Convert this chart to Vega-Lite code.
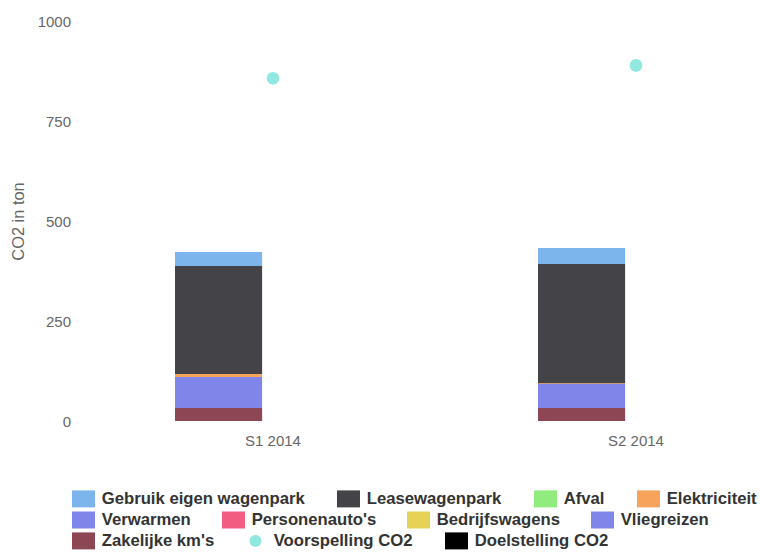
{
  "$schema": "https://vega.github.io/schema/vega-lite/v6.json",
  "width": 726,
  "height": 400,
  "autosize": {"type": "none"},
  "padding": {"left": 91.5, "top": 21, "right": 0, "bottom": 131},
  "background": "#ffffff",
  "config": {
    "font": "Liberation Sans",
    "view": {"stroke": null},
    "legend": {
      "orient": "none",
      "direction": "horizontal",
      "columnPadding": 30,
      "padding": 0,
      "symbolSize": 289,
      "symbolStrokeWidth": 0,
      "symbolOpacity": 1,
      "labelFont": "Liberation Sans",
      "labelFontSize": 16.7,
      "labelFontWeight": "bold",
      "labelColor": "#333333",
      "labelOffset": 9.7,
      "labelLimit": 0
    }
  },
  "datasets": {
    "columns": [
      {"period": "S1 2014", "series": "Zakelijke km's", "seriesIndex": 8, "value": 32.5},
      {"period": "S1 2014", "series": "Verwarmen", "seriesIndex": 4, "value": 77.5},
      {"period": "S1 2014", "series": "Elektriciteit", "seriesIndex": 3, "value": 7.5},
      {"period": "S1 2014", "series": "Leasewagenpark", "seriesIndex": 1, "value": 270},
      {"period": "S1 2014", "series": "Gebruik eigen wagenpark", "seriesIndex": 0, "value": 35},
      {"period": "S2 2014", "series": "Zakelijke km's", "seriesIndex": 8, "value": 32.5},
      {"period": "S2 2014", "series": "Verwarmen", "seriesIndex": 4, "value": 60},
      {"period": "S2 2014", "series": "Elektriciteit", "seriesIndex": 3, "value": 2},
      {"period": "S2 2014", "series": "Leasewagenpark", "seriesIndex": 1, "value": 298},
      {"period": "S2 2014", "series": "Gebruik eigen wagenpark", "seriesIndex": 0, "value": 40}
    ],
    "forecast": [
      {"period": "S1 2014", "series": "Voorspelling CO2", "value": 857},
      {"period": "S2 2014", "series": "Voorspelling CO2", "value": 889}
    ]
  },
  "layer": [
    {
      "data": {"name": "columns"},
      "mark": {"type": "bar"},
      "encoding": {
        "x": {
          "field": "period",
          "type": "nominal",
          "scale": {"domain": ["S1 2014", "S2 2014"], "paddingInner": 0, "paddingOuter": 0},
          "axis": {
            "title": null,
            "domain": false,
            "ticks": false,
            "grid": false,
            "labelAngle": 0,
            "labelPadding": 12,
            "labelFontSize": 15,
            "labelColor": "#666666"
          }
        },
        "xOffset": {
          "datum": "A",
          "scale": {"domain": ["A", "B"], "paddingInner": 0.2, "paddingOuter": 0.767}
        },
        "y": {
          "field": "value",
          "type": "quantitative",
          "stack": "zero",
          "scale": {"domain": [0, 1000], "nice": false},
          "axis": {
            "title": "CO2 in ton",
            "values": [0, 250, 500, 750, 1000],
            "format": "d",
            "grid": false,
            "domain": false,
            "ticks": false,
            "labelPadding": 21,
            "labelFontSize": 15,
            "labelColor": "#666666",
            "titleFontSize": 16.4,
            "titleFontWeight": "normal",
            "titleColor": "#666666",
            "titlePadding": 11
          }
        },
        "color": {
          "field": "series",
          "type": "nominal",
          "title": null,
          "legend": {
            "values": ["Gebruik eigen wagenpark", "Leasewagenpark", "Afval", "Elektriciteit"],
            "legendX": -16.5,
            "legendY": 469,
            "columnPadding": 32,
            "symbolType": "M-1.35,-1L1.35,-1L1.35,1L-1.35,1Z"
          },
          "scale": {
            "domain": ["Gebruik eigen wagenpark", "Leasewagenpark", "Afval", "Elektriciteit", "Verwarmen", "Personenauto's", "Bedrijfswagens", "Vliegreizen", "Zakelijke km's", "Voorspelling CO2", "Doelstelling CO2"],
            "range": ["#7cb5ec", "#434348", "#90ed7d", "#f7a35c", "#8085e9", "#f15c80", "#e4d354", "#8085e9", "#8d4654", "#91e8e1", "#000000"]
          }
        },
        "order": {"field": "seriesIndex", "type": "quantitative", "sort": "descending"}
      }
    },
    {
      "data": {"name": "forecast"},
      "mark": {"type": "point", "filled": true, "opacity": 1, "size": 324},
      "encoding": {
        "x": {"field": "period", "type": "nominal"},
        "y": {"field": "value", "type": "quantitative"},
        "fill": {
          "field": "series",
          "type": "nominal",
          "title": null,
          "legend": {"legendX": -16.5, "legendY": 511, "columnPadding": 32},
          "scale": {
            "domain": ["Zakelijke km's", "Voorspelling CO2", "Doelstelling CO2"],
            "range": ["#8d4654", "#91e8e1", "#000000"]
          }
        },
        "shape": {
          "field": "series",
          "type": "nominal",
          "title": null,
          "legend": {"legendX": -16.5, "legendY": 511, "columnPadding": 32},
          "scale": {
            "domain": ["Zakelijke km's", "Voorspelling CO2", "Doelstelling CO2"],
            "range": ["M-1.35,-1L1.35,-1L1.35,1L-1.35,1Z", "M-0.7,0A0.7,0.7,0,1,0,0.7,0A0.7,0.7,0,1,0,-0.7,0Z", "M-1.35,-1L1.35,-1L1.35,1L-1.35,1Z"]
          }
        }
      }
    },
    {
      "data": {"name": "columns"},
      "transform": [{"filter": {"field": "series", "equal": "Verwarmen"}}],
      "mark": {"type": "point", "filled": false, "size": 0},
      "encoding": {
        "x": {"field": "period", "type": "nominal"},
        "y": {"field": "value", "type": "quantitative"},
        "stroke": {
          "field": "series",
          "type": "nominal",
          "title": null,
          "legend": {
            "legendX": -17,
            "legendY": 490,
            "columnPadding": -4,
            "symbolSize": 1,
            "symbolType": "M-23,0L23,0",
            "symbolStrokeWidth": 17,
            "symbolFillColor": "transparent",
            "labelOffset": 9.2
          },
          "scale": {
            "domain": ["Verwarmen", "Personenauto's", "Bedrijfswagens", "Vliegreizen"],
            "range": ["#8085e9", "#f15c80", "#e4d354", "#8085e9"]
          }
        }
      }
    }
  ]
}
